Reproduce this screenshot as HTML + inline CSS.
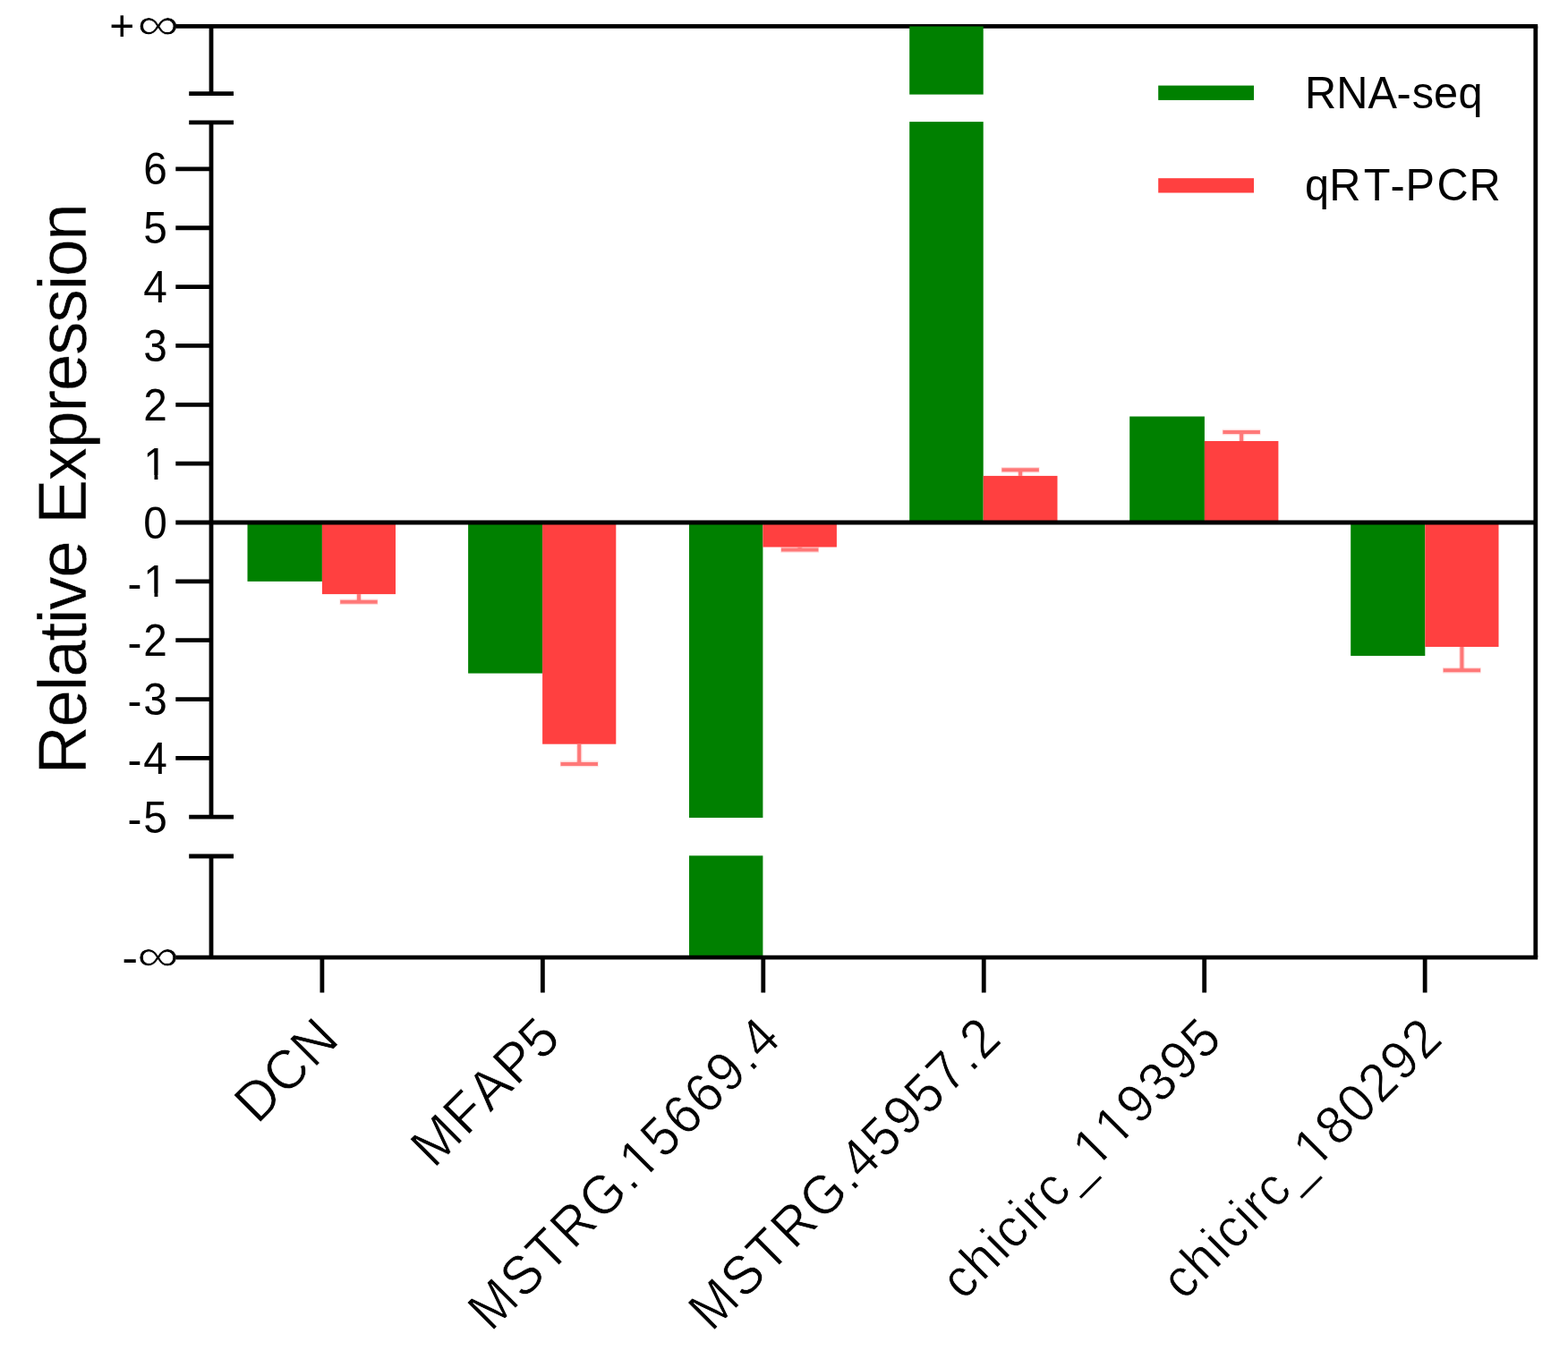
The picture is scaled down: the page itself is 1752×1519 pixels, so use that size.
<!DOCTYPE html>
<html lang="en"><head><meta charset="utf-8"><title>Relative Expression: RNA-seq vs qRT-PCR</title>
<style>html,body{margin:0;padding:0;background:#fff;}body{width:1752px;height:1519px;overflow:hidden;}svg{display:block;}text{font-family:"Liberation Sans",Arial,Helvetica,sans-serif;fill:#000;font-kerning:none;}</style>
</head><body>
<svg width="1752" height="1519" viewBox="0 0 1752 1519">
<rect x="0" y="0" width="1752" height="1519" fill="#ffffff"/>
<g id="ylabels">
<text transform="translate(142.6,930.75) scale(1,1.04)" font-size="47.8" x="0 17.72" y="1.25 0">-5</text>
<text transform="translate(142.6,864.9) scale(1,1.04)" font-size="47.8" x="0 17.72" y="1.25 0">-4</text>
<text transform="translate(142.6,799.05) scale(1,1.04)" font-size="47.8" x="0 17.72" y="1.25 0">-3</text>
<text transform="translate(142.6,733.2) scale(1,1.04)" font-size="47.8" x="0 17.72" y="1.25 0">-2</text>
<text transform="translate(142.6,667.35) scale(1,1.04)" font-size="47.8" x="0 17.72" y="1.25 0">-1</text>
<rect transform="translate(142.6,667.35) scale(1,1.04)" x="20.17" y="-4.34" width="9.73" height="5.04" fill="#fff"/>
<rect transform="translate(142.6,667.35) scale(1,1.04)" x="33.8" y="-4.34" width="9.36" height="5.04" fill="#fff"/>
<text transform="translate(160.32,601.5) scale(1,1.04)" font-size="47.8" x="0">0</text>
<text transform="translate(160.32,535.65) scale(1,1.04)" font-size="47.8" x="0">1</text>
<rect transform="translate(160.32,535.65) scale(1,1.04)" x="2.45" y="-4.34" width="9.73" height="5.04" fill="#fff"/>
<rect transform="translate(160.32,535.65) scale(1,1.04)" x="16.08" y="-4.34" width="9.36" height="5.04" fill="#fff"/>
<text transform="translate(160.32,469.8) scale(1,1.04)" font-size="47.8" x="0">2</text>
<text transform="translate(160.32,403.95) scale(1,1.04)" font-size="47.8" x="0">3</text>
<text transform="translate(160.32,338.1) scale(1,1.04)" font-size="47.8" x="0">4</text>
<text transform="translate(160.32,272.25) scale(1,1.04)" font-size="47.8" x="0">5</text>
<text transform="translate(160.32,206.4) scale(1,1.04)" font-size="47.8" x="0">6</text>
</g>
<g id="inf"><text x="122.2" y="45.1" font-size="48">+</text><text transform="translate(153.2,44.3) scale(1.3,1)" font-size="50.8" stroke="#fff" stroke-width="0.7">∞</text></g>
<g id="ninf"><text transform="translate(136.2,1087.45) scale(1.12,1)" font-size="48">-</text><text transform="translate(153.1,1085.1) scale(1.3,1)" font-size="50.8" stroke="#fff" stroke-width="0.7">∞</text></g>
<text id="ytitle" transform="translate(95.9,865.6) rotate(-90)" font-size="75.2" x="0 52.86 93.23 108.49 148.86 168.3 183.56 219.71 260.08 279.52 328.23 364.38 404.76 428.35 468.72 504.87 541.02 556.28 596.65" stroke="#fff" stroke-width="0.4" xml:space="preserve">Relative Expression</text>
<g id="xlabels">
<text transform="translate(381.2,1164.3) rotate(-45) scale(1,1.035)" font-size="60" x="-132.29 -87.81 -43.33" stroke="#fff" stroke-width="0.7">DCN</text>
<text transform="translate(627.65,1164.3) rotate(-45) scale(1,1.035)" font-size="60" x="-201.97 -150.84 -113.04 -71.87 -32.03" stroke="#fff" stroke-width="0.7">MFAP5</text>
<text transform="translate(874.1,1164.3) rotate(-45) scale(0.96,1.035)" font-size="60" x="-479.17 -426.12 -383.31 -343.79 -297.39 -248.2 -230.68 -195.01 -159.34 -123.68 -88.01 -51.99 -32.67" stroke="#fff" stroke-width="0.7">MSTRG.15669.4</text>
<rect transform="translate(874.1,1164.3) rotate(-45) scale(0.96,1.035)" x="-227.6" y="-5.45" width="12.22" height="6.33" fill="#fff"/>
<rect transform="translate(874.1,1164.3) rotate(-45) scale(0.96,1.035)" x="-210.5" y="-5.45" width="11.75" height="6.33" fill="#fff"/>
<text transform="translate(1120.55,1164.3) rotate(-45) scale(0.96,1.035)" font-size="60" x="-479.17 -426.12 -383.31 -343.79 -297.39 -248.2 -230.68 -195.01 -159.34 -123.68 -88.01 -51.99 -32.67" stroke="#fff" stroke-width="0.7">MSTRG.45957.2</text>
<text transform="translate(1367,1164.3) rotate(-45) scale(0.96,1.01)" font-size="60" x="-427.85 -395.8 -360.73 -345.77 -314.14 -299.38 -277.63 -245.58 -211.02 -175.35 -139.68 -104.01 -68.34 -32.67" stroke="#fff" stroke-width="0.7">chicirc_119395</text>
<rect transform="translate(1367,1164.3) rotate(-45) scale(0.96,1.01)" x="-207.94" y="-5.45" width="12.22" height="6.33" fill="#fff"/>
<rect transform="translate(1367,1164.3) rotate(-45) scale(0.96,1.01)" x="-190.83" y="-5.45" width="11.75" height="6.33" fill="#fff"/>
<rect transform="translate(1367,1164.3) rotate(-45) scale(0.96,1.01)" x="-172.27" y="-5.45" width="12.22" height="6.33" fill="#fff"/>
<rect transform="translate(1367,1164.3) rotate(-45) scale(0.96,1.01)" x="-155.16" y="-5.45" width="11.75" height="6.33" fill="#fff"/>
<text transform="translate(1613.45,1164.3) rotate(-45) scale(0.96,1.01)" font-size="60" x="-427.85 -395.8 -360.73 -345.77 -314.14 -299.38 -277.63 -245.58 -211.02 -175.35 -139.68 -104.01 -68.34 -32.67" stroke="#fff" stroke-width="0.7">chicirc_180292</text>
<rect transform="translate(1613.45,1164.3) rotate(-45) scale(0.96,1.01)" x="-207.94" y="-5.45" width="12.22" height="6.33" fill="#fff"/>
<rect transform="translate(1613.45,1164.3) rotate(-45) scale(0.96,1.01)" x="-190.83" y="-5.45" width="11.75" height="6.33" fill="#fff"/>
</g>
<g id="legend">
<rect x="1294.2" y="95.6" width="106.8" height="16.3" fill="#008000"/>
<rect x="1294.2" y="199.2" width="106.8" height="16.3" fill="#ff4040"/>
<text transform="translate(1458,120.6) scale(1,1.03)" font-size="48.7" x="0.01 35.31 70.4 102.44 119.64 144.13 171.55">RNA-seq</text>
<text transform="translate(1458,224.3) scale(1,1.03)" font-size="48.7" x="0.05 27.21 65.71 95.44 112.51 147.43 183.61">qRT-PCR</text>
</g>
<g id="bars">
<rect x="276.5" y="584" width="83.4" height="65.9" fill="#008000"/>
<rect x="359.9" y="584" width="82.1" height="80.1" fill="#ff4040"/>
<line x1="400.95" y1="664.1" x2="400.95" y2="672.7" stroke="#ff4040" stroke-width="6.4" stroke-opacity="0.18"/>
<line x1="379.6" y1="672.7" x2="422.3" y2="672.7" stroke="#ff4040" stroke-width="6.6" stroke-opacity="0.18"/>
<line x1="400.95" y1="664.1" x2="400.95" y2="672.7" stroke="#ff7878" stroke-width="4"/>
<line x1="380.2" y1="672.7" x2="421.7" y2="672.7" stroke="#ff7878" stroke-width="4"/>
<rect x="523.1" y="584" width="83" height="168.6" fill="#008000"/>
<rect x="606.1" y="584" width="82.2" height="247.7" fill="#ff4040"/>
<line x1="647.2" y1="831.7" x2="647.2" y2="853.9" stroke="#ff4040" stroke-width="6.4" stroke-opacity="0.18"/>
<line x1="625.85" y1="853.9" x2="668.55" y2="853.9" stroke="#ff4040" stroke-width="6.6" stroke-opacity="0.18"/>
<line x1="647.2" y1="831.7" x2="647.2" y2="853.9" stroke="#ff7878" stroke-width="4"/>
<line x1="626.45" y1="853.9" x2="667.95" y2="853.9" stroke="#ff7878" stroke-width="4"/>
<rect x="770" y="584" width="82.4" height="330" fill="#008000"/>
<rect x="770" y="956.4" width="82.4" height="113.7" fill="#008000"/>
<rect x="852.4" y="584" width="82.5" height="27.5" fill="#ff4040"/>
<line x1="893.65" y1="611.5" x2="893.65" y2="614.4" stroke="#ff4040" stroke-width="6.4" stroke-opacity="0.18"/>
<line x1="872.3" y1="614.4" x2="915" y2="614.4" stroke="#ff4040" stroke-width="6.6" stroke-opacity="0.18"/>
<line x1="893.65" y1="611.5" x2="893.65" y2="614.4" stroke="#ff7878" stroke-width="4"/>
<line x1="872.9" y1="614.4" x2="914.4" y2="614.4" stroke="#ff7878" stroke-width="4"/>
<rect x="1016.2" y="136.1" width="82.5" height="447.9" fill="#008000"/>
<rect x="1098.7" y="531.9" width="82.8" height="52.1" fill="#ff4040"/>
<line x1="1140.1" y1="531.9" x2="1140.1" y2="525.2" stroke="#ff4040" stroke-width="6.4" stroke-opacity="0.18"/>
<line x1="1118.75" y1="525.2" x2="1161.45" y2="525.2" stroke="#ff4040" stroke-width="6.6" stroke-opacity="0.18"/>
<line x1="1140.1" y1="531.9" x2="1140.1" y2="525.2" stroke="#ff7878" stroke-width="4"/>
<line x1="1119.35" y1="525.2" x2="1160.85" y2="525.2" stroke="#ff7878" stroke-width="4"/>
<rect x="1262.2" y="465.5" width="83.7" height="118.5" fill="#008000"/>
<rect x="1345.9" y="493" width="82.5" height="91" fill="#ff4040"/>
<line x1="1387.15" y1="493" x2="1387.15" y2="483" stroke="#ff4040" stroke-width="6.4" stroke-opacity="0.18"/>
<line x1="1365.8" y1="483" x2="1408.5" y2="483" stroke="#ff4040" stroke-width="6.6" stroke-opacity="0.18"/>
<line x1="1387.15" y1="493" x2="1387.15" y2="483" stroke="#ff7878" stroke-width="4"/>
<line x1="1366.4" y1="483" x2="1407.9" y2="483" stroke="#ff7878" stroke-width="4"/>
<rect x="1509.2" y="584" width="83.1" height="149.1" fill="#008000"/>
<rect x="1592.3" y="584" width="82.2" height="139" fill="#ff4040"/>
<line x1="1633.4" y1="723" x2="1633.4" y2="749.2" stroke="#ff4040" stroke-width="6.4" stroke-opacity="0.18"/>
<line x1="1612.05" y1="749.2" x2="1654.75" y2="749.2" stroke="#ff4040" stroke-width="6.6" stroke-opacity="0.18"/>
<line x1="1633.4" y1="723" x2="1633.4" y2="749.2" stroke="#ff7878" stroke-width="4"/>
<line x1="1612.65" y1="749.2" x2="1654.15" y2="749.2" stroke="#ff7878" stroke-width="4"/>
</g>
<g id="axes">
<line x1="196.3" y1="29.3" x2="1718.2" y2="29.3" stroke="#000" stroke-width="4.8"/>
<line x1="196.3" y1="1070.1" x2="1718.2" y2="1070.1" stroke="#000" stroke-width="4.8"/>
<line x1="1715.8" y1="29.3" x2="1715.8" y2="1070.1" stroke="#000" stroke-width="4.8"/>
<line x1="236" y1="29.3" x2="236" y2="104.6" stroke="#000" stroke-width="4.8"/>
<line x1="236" y1="136.8" x2="236" y2="913.2" stroke="#000" stroke-width="4.8"/>
<line x1="236" y1="957" x2="236" y2="1070.1" stroke="#000" stroke-width="4.8"/>
<line x1="211.2" y1="104.6" x2="261" y2="104.6" stroke="#000" stroke-width="4.8"/>
<line x1="211.2" y1="136.8" x2="261" y2="136.8" stroke="#000" stroke-width="4.8"/>
<line x1="211.2" y1="913.2" x2="261" y2="913.2" stroke="#000" stroke-width="4.8"/>
<line x1="211.2" y1="957" x2="261" y2="957" stroke="#000" stroke-width="4.8"/>
<line x1="196.3" y1="584" x2="1715.8" y2="584" stroke="#000" stroke-width="4.8"/>
<line x1="196.3" y1="847.4" x2="236" y2="847.4" stroke="#000" stroke-width="4.8"/>
<line x1="196.3" y1="781.55" x2="236" y2="781.55" stroke="#000" stroke-width="4.8"/>
<line x1="196.3" y1="715.7" x2="236" y2="715.7" stroke="#000" stroke-width="4.8"/>
<line x1="196.3" y1="649.85" x2="236" y2="649.85" stroke="#000" stroke-width="4.8"/>
<line x1="196.3" y1="518.15" x2="236" y2="518.15" stroke="#000" stroke-width="4.8"/>
<line x1="196.3" y1="452.3" x2="236" y2="452.3" stroke="#000" stroke-width="4.8"/>
<line x1="196.3" y1="386.45" x2="236" y2="386.45" stroke="#000" stroke-width="4.8"/>
<line x1="196.3" y1="320.6" x2="236" y2="320.6" stroke="#000" stroke-width="4.8"/>
<line x1="196.3" y1="254.75" x2="236" y2="254.75" stroke="#000" stroke-width="4.8"/>
<line x1="196.3" y1="188.9" x2="236" y2="188.9" stroke="#000" stroke-width="4.8"/>
<line x1="359.9" y1="1070.1" x2="359.9" y2="1109.5" stroke="#000" stroke-width="4.8"/>
<line x1="606.35" y1="1070.1" x2="606.35" y2="1109.5" stroke="#000" stroke-width="4.8"/>
<line x1="852.8" y1="1070.1" x2="852.8" y2="1109.5" stroke="#000" stroke-width="4.8"/>
<line x1="1099.25" y1="1070.1" x2="1099.25" y2="1109.5" stroke="#000" stroke-width="4.8"/>
<line x1="1345.7" y1="1070.1" x2="1345.7" y2="1109.5" stroke="#000" stroke-width="4.8"/>
<line x1="1592.15" y1="1070.1" x2="1592.15" y2="1109.5" stroke="#000" stroke-width="4.8"/>
</g>
<rect x="1016.2" y="29.5" width="82.5" height="76.1" fill="#008000" id="topseg"/>
</svg>
</body></html>
